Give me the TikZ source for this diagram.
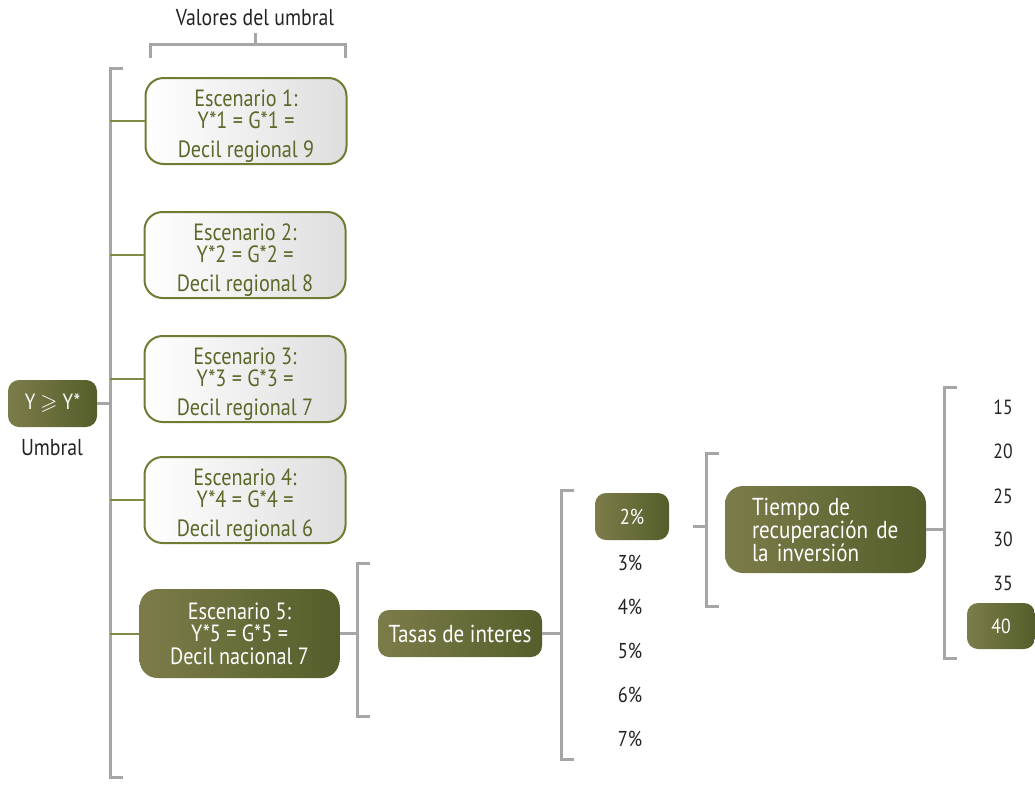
\documentclass[tikz,border=0pt]{standalone}
\usepackage{amssymb}
\usepackage{fontspec}
\setmainfont{PT Sans}[FakeStretch=0.86]
\usetikzlibrary{calc}
\definecolor{oliveL}{RGB}{124,124,74}
\definecolor{oliveR}{RGB}{84,94,42}
\definecolor{oliveB}{RGB}{112,124,52}
\definecolor{oliveT}{RGB}{90,104,40}
\definecolor{oliveC}{RGB}{128,140,70}
\definecolor{brk}{RGB}{166,166,166}
\definecolor{lightR}{RGB}{222,222,222}
\definecolor{txt}{RGB}{35,35,35}
\newcommand{\topstrut}{\rule{0pt}{26pt}}
\tikzset{
  darkbox/.style={rounded corners=11pt, left color=oliveL, right color=oliveR, draw=none, text=white, align=center, inner sep=0pt, font=\fontsize{22}{22}\selectfont},
  scenbox/.style={rounded corners=18pt, left color=white, right color=lightR, draw=oliveB, line width=2pt, text=oliveT, align=center, inner sep=0pt, minimum width=201pt, minimum height=86pt, font=\fontsize{23.5}{22}\selectfont},
  brkline/.style={draw=brk, line width=3pt},
  oliveline/.style={draw=oliveC, line width=2pt},
  plain/.style={text=txt, inner sep=0pt, font=\fontsize{21.5}{22}\selectfont},
  numtxt/.style={plain, font=\fontsize{20.5}{22}\selectfont}
}
\begin{document}
\begin{tikzpicture}[x=1pt,y=-1pt]
\useasboundingbox (0,0) rectangle (1035,784);
% top label and bracket
\node[plain, font=\fontsize{23}{23}\selectfont] (valores) at (255,18) {Valores del umbral};
\coordinate (tbL) at (150,45);
\coordinate (tbR) at (345,45);
\coordinate (tbM) at (255,45);
\draw[brkline] ($(tbL)+(0,13)$) -- (tbL) -- (tbR) -- ($(tbR)+(0,13)$);
\draw[brkline] (tbM) -- ($(tbM)+(0,-12)$);
% root
\node[darkbox, minimum width=89pt, minimum height=47pt] (root) at (52.5,403.5) {Y $\geqslant$ Y*};
\node[plain, font=\fontsize{23}{23}\selectfont] (umbral) at (52,448) {Umbral};
% main bracket
\coordinate (b1t) at (110,68);
\coordinate (b1b) at (110,777);
\draw[brkline] ($(b1t)+(13,0)$) -- (b1t) -- (b1b) -- ($(b1b)+(13,0)$);
\draw[brkline] (root.east) -- (root.east -| b1t);
% scenarios
\node[scenbox] (s1) at (246,121) {\topstrut Escenario 1:\\Y*1 = G*1 =\\[7pt]Decil regional 9};
\node[scenbox] (s2) at (245,255) {\topstrut Escenario 2:\\Y*2 = G*2 =\\[7pt]Decil regional 8};
\node[scenbox] (s3) at (245,379) {\topstrut Escenario 3:\\Y*3 = G*3 =\\[7pt]Decil regional 7};
\node[scenbox] (s4) at (245,500) {\topstrut Escenario 4:\\Y*4 = G*4 =\\[7pt]Decil regional 6};
\node[darkbox, rounded corners=18pt, minimum width=200pt, minimum height=89pt, font=\fontsize{23.5}{22.5}\selectfont] (s5) at (239.5,633.5) {Escenario 5:\\Y*5 = G*5 =\\Decil nacional 7};
\foreach \s in {s1,s2,s3,s4,s5}{
  \draw[oliveline] (\s.west) -- (\s.west -| b1t);
}
% bracket 2
\coordinate (b2t) at (357,563);
\coordinate (b2b) at (357,716);
\draw[brkline] ($(b2t)+(13,0)$) -- (b2t) -- (b2b) -- ($(b2b)+(13,0)$);
\draw[brkline] (s5.east) -- (s5.east -| b2t);
\node[darkbox, minimum width=164pt, minimum height=47pt, font=\fontsize{24.5}{24}\selectfont] (tasas) at (460,633.5) {Tasas de interes};
% bracket 3
\coordinate (b3t) at (561,490);
\coordinate (b3b) at (561,759);
\draw[brkline] ($(b3t)+(13,0)$) -- (b3t) -- (b3b) -- ($(b3b)+(13,0)$);
\draw[brkline] (tasas.east) -- (tasas.east -| b3t);
\node[darkbox, minimum width=74pt, minimum height=47pt, font=\fontsize{21.5}{22}\selectfont] (p2) at (632,516.5) {2\%};
\node[plain] (p3) at (630,563) {3\%};
\node[plain] (p4) at (630,607) {4\%};
\node[plain] (p5) at (630,651) {5\%};
\node[plain] (p6) at (630,695) {6\%};
\node[plain] (p7) at (630,739) {7\%};
% bracket 4
\coordinate (b4t) at (706,453);
\coordinate (b4b) at (706,606);
\coordinate (c4) at (693,526);
\draw[brkline] ($(b4t)+(13,0)$) -- (b4t) -- (b4b) -- ($(b4b)+(13,0)$);
\draw[brkline] (c4) -- (c4 -| b4t);
\node[darkbox, rounded corners=18pt, minimum width=201pt, minimum height=87pt, align=left, text width=147pt, font=\fontsize{24.5}{23}\selectfont] (tiempo) at (825.5,529.5) {Tiempo de\\recuperación de\\la inversión};
% bracket 5
\coordinate (b5t) at (944,387);
\coordinate (b5b) at (944,658);
\draw[brkline] ($(b5t)+(13,0)$) -- (b5t) -- (b5b) -- ($(b5b)+(13,0)$);
\draw[brkline] (tiempo.east) -- (tiempo.east -| b5t);
\node[numtxt] (n15) at (1003,407) {15};
\node[numtxt] (n20) at (1003,451) {20};
\node[numtxt] (n25) at (1003,496) {25};
\node[numtxt] (n30) at (1003,539) {30};
\node[numtxt] (n35) at (1003,583) {35};
\node[darkbox, minimum width=68pt, minimum height=46pt, font=\fontsize{20.5}{22}\selectfont] (n40) at (1001,626) {40};
\end{tikzpicture}
\end{document}
